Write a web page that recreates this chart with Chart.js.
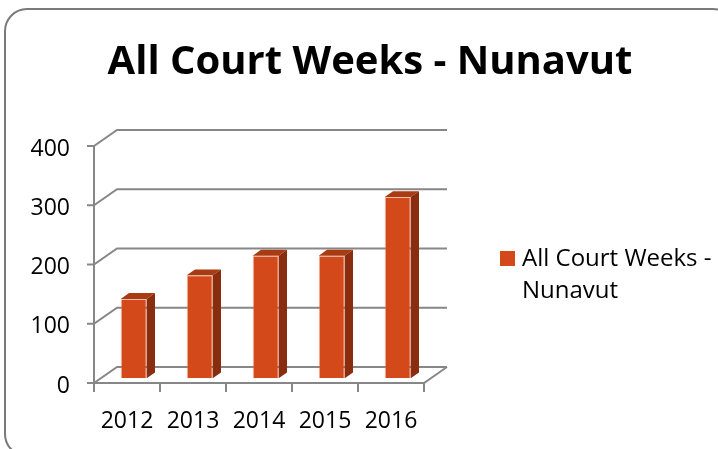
<!DOCTYPE html>
<html lang="en">
<head>
<meta charset="UTF-8">
<title>All Court Weeks - Nunavut</title>
<script src="https://cdn.jsdelivr.net/npm/chart.js@4"></script>
<style>
    body { margin: 0; background: #fff; }
    .chart-box { width: 718px; height: 449px; position: relative; }
</style>
</head>
<body>
<div class="chart-box"><canvas id="courtChart"></canvas></div>

<script>
    const years = ['2012', '2013', '2014', '2015', '2016'];
    const courtWeeks = [134, 174, 207, 207, 306];
    const yTicks = [0, 100, 200, 300, 400];
    const seriesName = 'All Court Weeks - Nunavut';
    const titleText = 'All Court Weeks - Nunavut';

    const FONT = "'Open Sans', sans-serif";
    const GRID = '#878787';
    const BAR_FRONT = '#D4491A';
    const BAR_TOP = '#A83B12';
    const BAR_SIDE = '#8A2D0E';
    const DEPTH = { x: 23, y: -16 };       // wall / floor depth
    const BAR_SHIFT = { x: 6.7, y: -4.7 };  // bars sit a bit behind the front edge
    const BAR_DEPTH = { x: 8.3, y: -5.8 };

    // white background + rounded frame
    const framePlugin = {
        id: 'frame',
        beforeDraw(chart) {
            const ctx = chart.ctx;
            ctx.save();
            ctx.fillStyle = '#fff';
            ctx.fillRect(0, 0, chart.width, chart.height);
            ctx.strokeStyle = '#7a7a7a';
            ctx.lineWidth = 2;
            ctx.beginPath();
            ctx.roundRect(5, 9, 730, 447, 22);
            ctx.stroke();
            ctx.restore();
        }
    };

    // walls, floor and the 3d faces of the bars
    const box3dPlugin = {
        id: 'box3d',
        beforeDatasetsDraw(chart) {
            const { ctx, chartArea: a, scales: { x, y } } = chart;
            const step = x.getPixelForValue(1) - x.getPixelForValue(0);

            ctx.save();
            ctx.strokeStyle = GRID;
            ctx.lineWidth = 2;
            ctx.beginPath();
            yTicks.forEach(v => {
                const py = y.getPixelForValue(v);
                ctx.moveTo(a.left - 7, py);
                ctx.lineTo(a.left, py);
                ctx.lineTo(a.left + DEPTH.x, py + DEPTH.y);
                ctx.lineTo(a.right + DEPTH.x, py + DEPTH.y);
            });
            ctx.moveTo(a.left, y.getPixelForValue(yTicks[yTicks.length - 1]));
            ctx.lineTo(a.left, a.bottom);
            ctx.lineTo(a.right, a.bottom);
            ctx.lineTo(a.right + DEPTH.x, a.bottom + DEPTH.y);
            for (let i = 0; i <= years.length; i++) {
                const px = x.getPixelForValue(0) - step / 2 + i * step;
                ctx.moveTo(px, a.bottom);
                ctx.lineTo(px, a.bottom + 9);
            }
            ctx.stroke();
            ctx.restore();

            ctx.save();
            ctx.translate(BAR_SHIFT.x, BAR_SHIFT.y);
        },
        afterDatasetsDraw(chart) {
            const ctx = chart.ctx;
            chart.getDatasetMeta(0).data.forEach(bar => {
                const { x: cx, y: top, base, width } = bar.getProps(['x', 'y', 'base', 'width'], true);
                const l = cx - width / 2, r = cx + width / 2;

                ctx.fillStyle = BAR_TOP;
                ctx.beginPath();
                ctx.moveTo(l, top);
                ctx.lineTo(l + BAR_DEPTH.x, top + BAR_DEPTH.y);
                ctx.lineTo(r + BAR_DEPTH.x, top + BAR_DEPTH.y);
                ctx.lineTo(r, top);
                ctx.closePath();
                ctx.fill();

                ctx.fillStyle = BAR_SIDE;
                ctx.beginPath();
                ctx.moveTo(r, top);
                ctx.lineTo(r + BAR_DEPTH.x, top + BAR_DEPTH.y);
                ctx.lineTo(r + BAR_DEPTH.x, base + BAR_DEPTH.y);
                ctx.lineTo(r, base);
                ctx.closePath();
                ctx.fill();
            });
            ctx.restore();
        }
    };

    // legend on the right, wrapped over two lines like the original
    const sideLegendPlugin = {
        id: 'sideLegend',
        afterDraw(chart) {
            const ctx = chart.ctx;
            const ds = chart.data.datasets[0];
            const parts = ds.label.split(' - ');
            const lines = [parts[0] + ' -', parts[1]];
            ctx.save();
            ctx.fillStyle = BAR_FRONT;
            ctx.fillRect(500, 251, 15, 15);
            ctx.fillStyle = '#000';
            ctx.font = `24px ${FONT}`;
            ctx.textBaseline = 'alphabetic';
            lines.forEach((t, i) => ctx.fillText(t, 522, 266 + i * 32));
            ctx.restore();
        }
    };

    new Chart(document.getElementById('courtChart'), {
        type: 'bar',
        data: {
            labels: years,
            datasets: [{
                label: seriesName,
                data: courtWeeks,
                backgroundColor: BAR_FRONT,
                borderColor: 'rgba(232,130,100,0.5)',
                borderWidth: 1,
                barPercentage: 0.394,
                categoryPercentage: 1
            }]
        },
        options: {
            responsive: true,
            maintainAspectRatio: false,
            animation: false,
            layout: { padding: { left: 22, top: 0, right: 0, bottom: 0 } },
            plugins: {
                legend: { display: false },
                tooltip: { enabled: false },
                title: {
                    display: true,
                    text: titleText,
                    color: '#000',
                    font: { family: FONT, size: 40, weight: 'bold', lineHeight: 1.2 },
                    padding: { top: 39, bottom: 59 }
                }
            },
            scales: {
                x: {
                    grid: { display: false, drawTicks: false },
                    border: { display: false },
                    ticks: { color: '#000', font: { family: FONT, size: 23 }, padding: 25 },
                    afterFit: s => { s.height = 66; }
                },
                y: {
                    min: 0,
                    max: 400,
                    grid: { display: false, drawTicks: false },
                    border: { display: false },
                    ticks: { stepSize: 100, color: '#000', font: { family: FONT, size: 23 }, padding: 24, labelOffset: 3 },
                    afterFit: s => { s.width = 72; }
                },
                legendSpace: {
                    type: 'linear',
                    position: 'right',
                    grid: { display: false, drawTicks: false },
                    border: { display: false },
                    ticks: { display: false },
                    afterFit: s => { s.width = 294; }
                }
            }
        },
        plugins: [framePlugin, box3dPlugin, sideLegendPlugin]
    });
</script>
</body>
</html>
